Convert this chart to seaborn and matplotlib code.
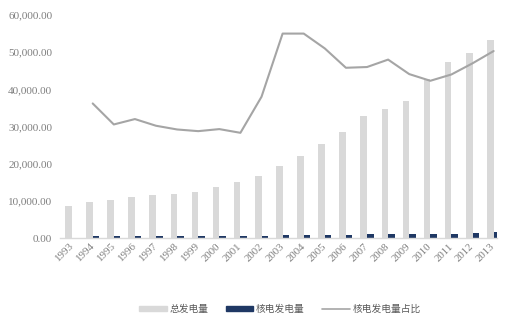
import numpy as np
import pandas as pd
import seaborn as sns
import matplotlib.pyplot as plt
from matplotlib.ticker import FuncFormatter
from matplotlib.patches import Patch
from matplotlib.lines import Line2D

sns.set_theme(style="white")
plt.rcParams['font.family'] = ['Liberation Serif', 'Noto Sans CJK SC']

years = [str(y) for y in range(1993, 2014)]
total = [8600, 9600, 10300, 10900, 11550, 11750, 12450, 13800, 15050, 16800,
         19350, 22050, 25200, 28600, 32800, 34700, 36800, 42650, 47300, 49900, 53400]
nuclear = [0, 500, 500, 500, 500, 500, 500, 500, 500, 540,
           800, 800, 800, 800, 1000, 1000, 1000, 1000, 1150, 1250, 1500]
share_years = years[1:]
share = [1.448, 1.222, 1.28, 1.208, 1.168, 1.15, 1.172, 1.132, 1.52, 2.2,
         2.2, 2.04, 1.832, 1.84, 1.92, 1.764, 1.692, 1.76, 1.88, 2.012]
series_names = ["总发电量", "核电发电量", "核电发电量占比"]
yticks = [0, 10000, 20000, 30000, 40000, 50000, 60000]

c_total = "#D9D9D9"
c_nuc = "#1F3864"
c_line = "#A5A5A5"
c_text = "#7F7F7F"

df = pd.DataFrame({
    "year": years * 2,
    "value": total + nuclear,
    "series": [series_names[0]] * len(years) + [series_names[1]] * len(years),
})

fig = plt.figure(figsize=(5.25, 3.22), dpi=100)
ax = fig.add_axes([60 / 525, (322 - 238) / 322, (497 - 60) / 525, (238 - 15) / 322])

sns.barplot(data=df, x="year", y="value", hue="series", order=years,
            hue_order=series_names[:2], palette=[c_total, c_nuc],
            saturation=1, width=0.62, linewidth=0, ax=ax)
ax.get_legend().remove()

ax.set_ylim(0, 60000)
ax.set_xlim(-0.55, 20.16)
ax.set_yticks(yticks)
ax.yaxis.set_major_formatter(FuncFormatter(lambda v, p: f"{v:,.2f}"))
ax.set_xlabel("")
ax.set_ylabel("")
for s in ["top", "right", "left"]:
    ax.spines[s].set_visible(False)
ax.spines["bottom"].set_color(c_total)
ax.spines["bottom"].set_linewidth(1.0)
ax.tick_params(axis="y", length=0, pad=5.5, labelsize=8, labelcolor=c_text)
ax.tick_params(axis="x", length=0, pad=5, labelsize=7.8, labelcolor=c_text)
for lab in ax.get_xticklabels():
    lab.set_rotation(45)
    lab.set_ha("right")
    lab.set_va("center")
    lab.set_rotation_mode("anchor")

ax2 = ax.twinx()
share_pos = [years.index(y) for y in share_years]
sns.lineplot(x=share_pos, y=share, ax=ax2, color=c_line, linewidth=1.5)
ax2.set_ylim(0, 60000 / 25000)
ax2.set_xlim(-0.55, 20.16)
ax2.set_yticks([])
for s in ax2.spines.values():
    s.set_visible(False)

handles = [Patch(color=c_total), Patch(color=c_nuc), Line2D([], [], color=c_line, lw=1.2)]
leg = fig.legend(handles, series_names, loc="center", bbox_to_anchor=(280 / 525, 13 / 322),
                 ncol=3, frameon=False, handlelength=2.8, handleheight=0.4,
                 handletextpad=0.3, columnspacing=1.8,
                 prop={'family': ['Noto Sans CJK SC'], 'size': 7})
for t in leg.get_texts():
    t.set_color("#595959")

fig.savefig("out.png", dpi=100)
